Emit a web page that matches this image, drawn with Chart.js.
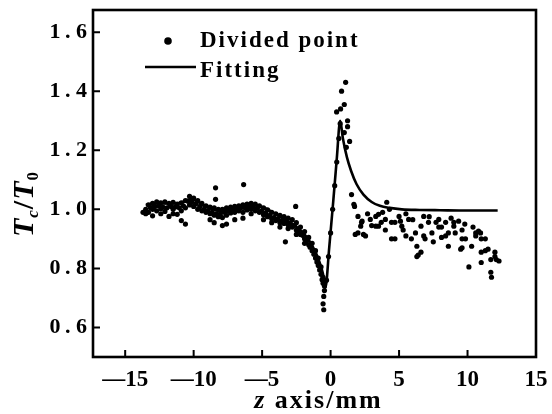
<!DOCTYPE html>
<html>
<head>
<meta charset="utf-8">
<script src="https://cdn.jsdelivr.net/npm/chart.js@4.4.0/dist/chart.umd.min.js"></script>
<style>
  html, body { margin: 0; padding: 0; background: #fff; }
  #wrap { width: 552px; height: 414px; }
</style>
</head>
<body>
<div id="wrap"><canvas id="myChart"></canvas></div>
<script>
// measured T_c/T_0 along z (mm), left of the peak
const bandPoints = [
  [-13.7, 0.99], [-13.5, 1.0], [-13.5, 0.985], [-13.3, 1.015], [-13.3, 0.99],
  [-13.0, 1.02], [-13.0, 1.0], [-13.0, 0.978], [-12.7, 1.025], [-12.7, 0.995],
  [-12.4, 1.022], [-12.4, 1.002], [-12.4, 0.985], [-12.1, 1.025], [-12.1, 0.993],
  [-11.8, 1.02], [-11.8, 0.976], [-11.5, 1.024], [-11.5, 1.0], [-11.5, 0.985],
  [-11.2, 1.018], [-11.2, 0.983], [-10.9, 1.022], [-10.9, 0.995], [-10.9, 0.962],
  [-10.6, 1.03], [-10.6, 1.005], [-10.6, 0.95], [-10.3, 1.044], [-10.3, 1.015],
  [-10.0, 1.038], [-10.0, 1.01], [-9.7, 1.03], [-9.7, 1.0], [-9.4, 1.02],
  [-9.4, 0.995], [-9.1, 1.012], [-9.1, 0.99], [-8.8, 1.008], [-8.8, 0.985],
  [-8.8, 0.965], [-8.5, 1.005], [-8.5, 0.98], [-8.5, 0.955], [-8.4, 1.073],
  [-8.4, 1.034], [-8.2, 1.0], [-8.2, 0.975], [-7.9, 1.0], [-7.9, 0.972],
  [-7.9, 0.945], [-7.6, 1.005], [-7.6, 0.98], [-7.6, 0.95], [-7.3, 1.008],
  [-7.3, 0.988], [-7.0, 1.01], [-7.0, 0.99], [-7.0, 0.965], [-6.7, 1.012],
  [-6.7, 0.995], [-6.35, 1.084], [-6.4, 1.015], [-6.4, 0.99], [-6.4, 0.97],
  [-6.1, 1.018], [-6.1, 0.998], [-5.8, 1.02], [-5.8, 1.0], [-5.8, 0.985],
  [-5.5, 1.018], [-5.5, 0.995], [-5.2, 1.012], [-5.2, 0.99], [-4.9, 1.005],
  [-4.9, 0.982], [-4.9, 0.965], [-4.6, 0.998], [-4.6, 0.975], [-4.3, 0.99],
  [-4.3, 0.968], [-4.3, 0.955], [-4.0, 0.985], [-4.0, 0.962], [-3.7, 0.98],
  [-3.7, 0.955], [-3.7, 0.94], [-3.4, 0.975], [-3.4, 0.952], [-3.3, 0.89],
  [-3.1, 0.97], [-3.1, 0.948], [-3.1, 0.935], [-2.8, 0.965], [-2.8, 0.94],
  [-2.55, 1.01], [-2.5, 0.955], [-2.5, 0.93], [-2.5, 0.915], [-2.2, 0.94],
  [-2.2, 0.915], [-1.9, 0.925], [-1.9, 0.9], [-1.9, 0.885], [-1.6, 0.905],
  [-1.6, 0.88], [-1.35, 0.885], [-1.35, 0.86], [-1.1, 0.86], [-1.1, 0.835],
  [-0.9, 0.835], [-0.9, 0.81], [-0.7, 0.805], [-0.7, 0.78], [-0.55, 0.77],
  [-0.55, 0.75], [-0.55, 0.68], [-0.45, 0.74], [-0.45, 0.725], [-0.5, 0.705],
  [-0.5, 0.66],
  // second pass through the dense part of the band
  [-13.15, 1.005], [-12.85, 1.01], [-12.55, 1.012], [-12.25, 1.008], [-11.95, 1.005],
  [-11.65, 1.01], [-11.35, 1.008], [-11.05, 1.005], [-10.75, 1.012], [-10.45, 1.028],
  [-10.15, 1.025], [-9.85, 1.018], [-9.55, 1.01], [-9.25, 1.0], [-8.95, 0.995],
  [-8.65, 0.99], [-8.35, 0.985], [-8.05, 0.985], [-7.75, 0.99], [-7.45, 0.995],
  [-7.15, 1.0], [-6.85, 1.002], [-6.55, 1.005], [-6.25, 1.005], [-5.95, 1.01],
  [-5.65, 1.008], [-5.35, 1.004], [-5.05, 0.995], [-4.75, 0.988], [-4.45, 0.98],
  [-4.15, 0.972], [-3.85, 0.968], [-3.55, 0.962], [-3.25, 0.958], [-2.95, 0.952],
  [-2.65, 0.945], [-2.35, 0.928], [-2.05, 0.912], [-1.75, 0.893], [-1.5, 0.872],
  [-1.22, 0.848], [-1.0, 0.822], [-0.8, 0.795], [-0.62, 0.762]
];

// around the peak
const peakPoints = [
  [-0.3, 0.76], [-0.15, 0.84], [0.0, 0.92], [0.15, 1.0], [0.3, 1.08],
  [0.45, 1.16], [0.6, 1.24], [0.7, 1.29], [0.44, 1.33], [0.73, 1.34],
  [1.0, 1.355], [0.8, 1.4], [1.1, 1.43], [1.24, 1.3], [1.24, 1.28],
  [1.39, 1.23], [1.0, 1.26], [1.15, 1.21], [1.53, 1.05], [1.75, 1.01],
  [1.7, 1.017], [2.0, 0.976], [2.26, 0.956], [1.8, 0.915]
];

// right of the peak
const tailPoints = [
  [2.3, 0.96], [2.0, 0.92], [2.2, 0.943], [2.4, 0.915], [2.55, 0.91],
  [2.7, 0.985], [2.9, 0.966], [3.0, 0.945], [3.3, 0.976], [3.3, 0.943],
  [3.5, 0.983], [3.5, 0.943], [3.7, 0.956], [3.8, 0.99], [4.0, 0.93],
  [4.0, 0.966], [4.1, 1.024], [4.3, 1.0], [4.45, 0.956], [4.45, 0.9],
  [4.7, 0.9], [4.7, 0.956], [5.0, 0.976], [5.1, 0.96], [5.2, 0.943],
  [5.3, 0.93], [5.5, 0.91], [5.5, 0.985], [5.7, 0.966], [5.9, 0.9],
  [6.0, 0.965], [6.2, 0.92], [6.3, 0.875], [6.3, 0.84], [6.4, 0.845],
  [6.6, 0.855], [6.6, 0.943], [6.8, 0.91], [6.8, 0.976], [6.9, 0.9],
  [7.15, 0.956], [7.2, 0.975], [7.4, 0.92], [7.5, 0.89], [7.7, 0.956],
  [7.9, 0.94], [7.9, 0.966], [8.1, 0.905], [8.1, 0.94], [8.4, 0.956],
  [8.4, 0.91], [8.6, 0.92], [8.6, 0.875], [8.8, 0.97], [9.0, 0.956],
  [9.0, 0.943], [9.1, 0.92], [9.35, 0.96], [9.5, 0.865], [9.6, 0.93],
  [9.6, 0.9], [9.6, 0.87], [9.8, 0.95], [9.85, 0.9], [10.1, 0.805],
  [10.3, 0.875], [10.4, 0.94], [10.6, 0.92], [10.6, 0.91], [10.8, 0.926],
  [10.95, 0.92], [11.0, 0.9], [11.0, 0.855], [11.0, 0.82], [11.3, 0.86],
  [11.3, 0.9], [11.5, 0.865], [11.7, 0.83], [11.7, 0.787], [11.75, 0.77],
  [12.0, 0.855], [12.0, 0.84], [12.1, 0.83], [12.3, 0.825]
];

// fitted curve
const fitZ = [-13.5, -12.8, -12.0, -11.3, -10.6, -10.2, -9.7, -9.2, -8.6, -8.0,
  -7.4, -6.8, -6.2, -5.6, -5.0, -4.4, -3.8, -3.2, -2.6, -2.0, -1.5, -1.1, -0.8,
  -0.55, -0.38, -0.1, 0.2, 0.45, 0.7, 0.9, 1.2, 1.5, 1.9, 2.4, 3.0, 3.6, 4.3,
  5.2, 6.5, 8.0, 10.0, 12.2];
const fitT = [1.015, 1.02, 1.02, 1.02, 1.028, 1.035, 1.025, 1.01, 1.0, 0.993,
  0.997, 1.005, 1.012, 1.015, 1.008, 0.995, 0.978, 0.962, 0.945, 0.92, 0.89, 0.855, 0.82,
  0.78, 0.735, 0.87, 1.03, 1.17, 1.3, 1.24, 1.175, 1.13, 1.085, 1.05, 1.025, 1.012, 1.005,
  1.0, 0.998, 0.997, 0.996, 0.996];

const xTicks = [-15, -10, -5, 0, 5, 10, 15];
const yTicks = [0.6, 0.8, 1.0, 1.2, 1.4, 1.6];

const serif = '"Liberation Serif", "Times New Roman", serif';

const dots = bandPoints.concat(peakPoints, tailPoints).map(p => ({ x: p[0], y: p[1] }));
const fitLine = fitZ.map((z, i) => ({ x: z, y: fitT[i] }));

// box, inward ticks, axis titles and key
const decorations = {
  id: 'decorations',
  afterDraw(chart) {
    const { ctx, chartArea: a, scales: { x, y } } = chart;
    ctx.save();
    ctx.strokeStyle = '#000';
    ctx.fillStyle = '#000';
    ctx.lineWidth = 2.6;
    ctx.strokeRect(a.left, a.top, a.right - a.left, a.bottom - a.top);

    ctx.lineWidth = 2;
    ctx.beginPath();
    xTicks.forEach(v => {
      const px = x.getPixelForValue(v);
      ctx.moveTo(px, a.bottom);
      ctx.lineTo(px, a.bottom - 7);
    });
    yTicks.forEach(v => {
      const py = y.getPixelForValue(v);
      ctx.moveTo(a.left, py);
      ctx.lineTo(a.left + 7, py);
    });
    ctx.stroke();

    // x title
    ctx.textBaseline = 'alphabetic';
    ctx.letterSpacing = '2px';
    const partsX = [
      { t: 'z', f: 'italic bold 26px ' + serif },
      { t: ' axis/mm', f: 'bold 26px ' + serif }
    ];
    let w = 0;
    partsX.forEach(p => { ctx.font = p.f; p.w = ctx.measureText(p.t).width; w += p.w; });
    let cx = (a.left + a.right) / 2 + 4 - w / 2;
    partsX.forEach(p => { ctx.font = p.f; ctx.fillText(p.t, cx, 408); cx += p.w; });

    // y title, rotated
    ctx.save();
    ctx.translate(33, 204);
    ctx.rotate(-Math.PI / 2);
    ctx.letterSpacing = '1px';
    const partsY = [
      { t: 'T', f: 'italic bold 30px ' + serif, dy: 0 },
      { t: 'c', f: 'italic bold 17px ' + serif, dy: 5 },
      { t: '/', f: 'bold 30px ' + serif, dy: 0 },
      { t: 'T', f: 'italic bold 30px ' + serif, dy: 0 },
      { t: '0', f: 'bold 17px ' + serif, dy: 5 }
    ];
    w = 0;
    partsY.forEach(p => { ctx.font = p.f; p.w = ctx.measureText(p.t).width; w += p.w; });
    cx = -w / 2;
    partsY.forEach(p => { ctx.font = p.f; ctx.fillText(p.t, cx, p.dy); cx += p.w; });
    ctx.restore();

    // key
    ctx.beginPath();
    ctx.arc(168, 41, 3.8, 0, Math.PI * 2);
    ctx.fill();
    ctx.lineWidth = 2.6;
    ctx.beginPath();
    ctx.moveTo(145, 67);
    ctx.lineTo(196, 67);
    ctx.stroke();
    ctx.font = 'bold 23px ' + serif;
    ctx.letterSpacing = '2px';
    ctx.fillText('Divided point', 200, 47);
    ctx.fillText('Fitting', 200, 77);
    ctx.restore();
  }
};

const ctx = document.getElementById('myChart').getContext('2d');
new Chart(ctx, {
  type: 'scatter',
  data: {
    datasets: [{
      label: 'Divided point',
      data: dots,
      backgroundColor: '#000',
      borderWidth: 0,
      pointRadius: 2.6
    }, {
      label: 'Fitting',
      data: fitLine,
      showLine: true,
      borderColor: '#000',
      borderWidth: 2.6,
      pointRadius: 0,
      cubicInterpolationMode: 'monotone'
    }]
  },
  options: {
    responsive: true,
    maintainAspectRatio: false,
    animation: false,
    devicePixelRatio: 1,
    layout: { padding: { top: 10, right: 16, left: 0, bottom: 0 } },
    plugins: { legend: { display: false }, tooltip: { enabled: false } },
    scales: {
      x: {
        type: 'linear',
        min: -17.35,
        max: 15,
        afterBuildTicks: s => { s.ticks = xTicks.map(v => ({ value: v })); },
        afterFit: s => { s.height = 57; s.paddingLeft = 0; s.paddingRight = 0; },
        grid: { display: false, drawTicks: false },
        border: { display: false },
        ticks: {
          color: '#000',
          padding: 9,
          maxRotation: 0,
          autoSkip: false,
          font: { family: serif, size: 23, weight: 'bold' },
          callback: v => v < 0 ? '\u2014' + Math.abs(v) : String(v)
        }
      },
      y: {
        min: 0.5,
        max: 1.675,
        afterBuildTicks: s => { s.ticks = yTicks.map(v => ({ value: v })); },
        afterFit: s => { s.width = 93; s.paddingTop = 0; s.paddingBottom = 0; },
        grid: { display: false, drawTicks: false },
        border: { display: false },
        ticks: {
          color: '#000',
          padding: 6,
          autoSkip: false,
          font: { family: serif, size: 22, weight: 'bold' },
          callback: v => v.toFixed(1).replace('.', '\u2009. ')
        }
      }
    }
  },
  plugins: [decorations]
});
</script>
</body>
</html>
